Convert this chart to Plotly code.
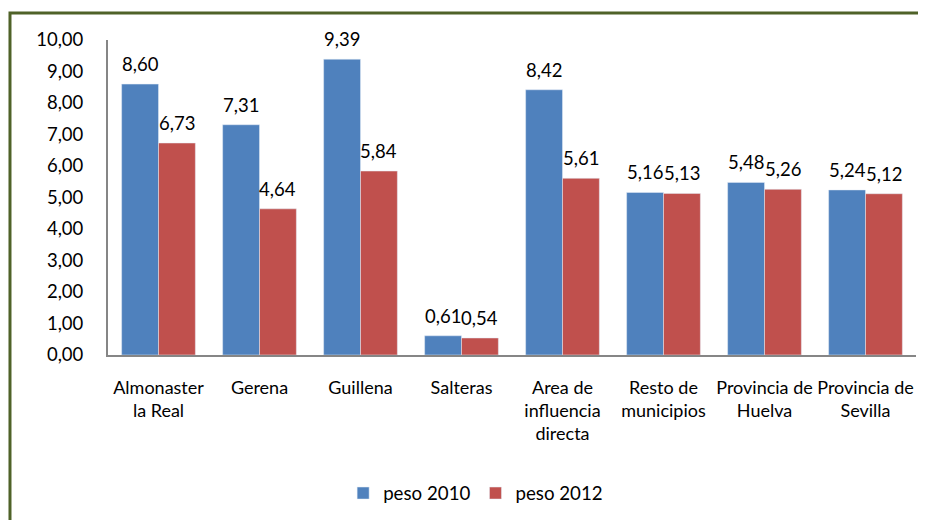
import plotly.graph_objects as go

categories = ["Almonaster<br>la Real", "Gerena", "Guillena", "Salteras",
              "Area de<br>influencia<br>directa", "Resto de<br>municipios",
              "Provincia de<br>Huelva", "Provincia de<br>Sevilla"]
peso_2010 = [8.60, 7.31, 9.39, 0.61, 8.42, 5.16, 5.48, 5.24]
peso_2012 = [6.73, 4.64, 5.84, 0.54, 5.61, 5.13, 5.26, 5.12]
y_ticks = [0, 1, 2, 3, 4, 5, 6, 7, 8, 9, 10]

FONT = "Lato"
W, H = 926, 520
L, R, T, B = 100, 18, 32, 173
BARGAP = 0.27

fig = go.Figure()
fig.add_trace(go.Bar(x=categories, y=peso_2010, name="peso 2010",
                     marker=dict(color="#4F81BD")))
fig.add_trace(go.Bar(x=categories, y=peso_2012, name="peso 2012",
                     marker=dict(color="#C0504D")))

# data labels above each bar
plot_w = W - L - R
bar_px = plot_w / len(categories) * (1 - BARGAP) / 2
annotations = []
for series, sign in ((peso_2010, -1), (peso_2012, 1)):
    for cat, v in zip(categories, series):
        annotations.append(dict(
            x=cat, y=v, xref="x", yref="y", text=f"{v:.2f}".replace(".", ","),
            showarrow=False, yanchor="bottom", xanchor="center",
            xshift=sign * bar_px / 2, yshift=7,
            font=dict(size=18.5, color="#000000", family=FONT)))

fig.update_layout(
    width=W, height=H,
    margin=dict(l=L, r=R, t=T, b=B),
    paper_bgcolor="white", plot_bgcolor="white",
    separators=",.",
    barmode="group", bargap=BARGAP, bargroupgap=0,
    font=dict(family=FONT, size=18, color="#000000"),
    showlegend=True,
    legend=dict(orientation="h", x=0.455, xanchor="center", y=-0.379, yanchor="top",
                font=dict(size=18.7), itemwidth=30),
    xaxis=dict(showline=True, linecolor="#868686", linewidth=2,
               tickfont=dict(size=18), ticks="", ticklabelstandoff=15),
    yaxis=dict(range=[0, 10], tickvals=y_ticks, tickformat=".2f",
               showline=True, linecolor="#868686", linewidth=2,
               showgrid=False, zeroline=False, tickfont=dict(size=18.5),
               ticks="", ticklabelstandoff=19),
    annotations=annotations,
    shapes=[dict(type="rect", xref="paper", yref="paper",
                 x0=-0.1213, x1=1.3, y0=-0.8, y1=1.0857,
                 line=dict(color="#4F6228", width=3), layer="below")],
)
fig.write_html("out.html")
